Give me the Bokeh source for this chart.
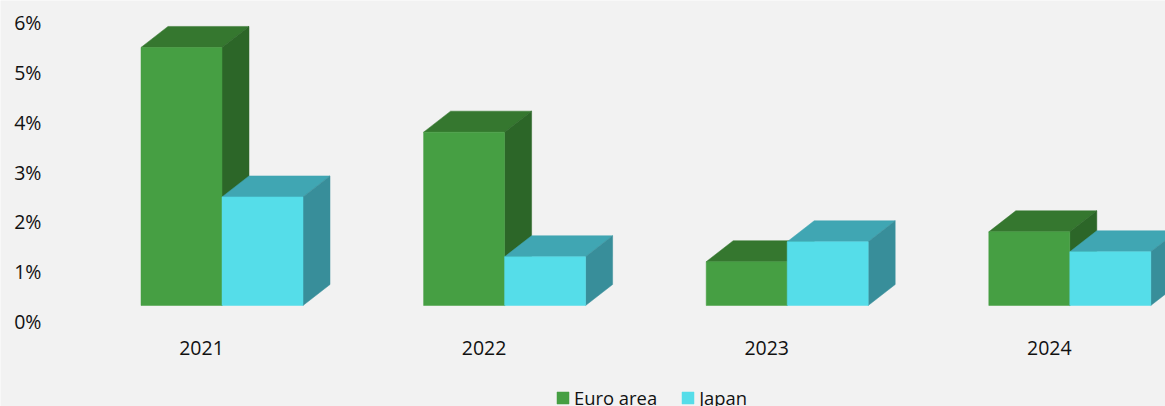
from bokeh.plotting import figure
from bokeh.models import Range1d, FixedTicker, Legend, LegendItem
from bokeh.embed import file_html
from bokeh.resources import INLINE

years = ["2021", "2022", "2023", "2024"]
euro_area = [5.5, 3.8, 1.2, 1.8]
japan = [2.5, 1.3, 1.6, 1.4]
y_ticks = [0, 1, 2, 3, 4, 5, 6]
y_labels = ["0%", "1%", "2%", "3%", "4%", "5%", "6%"]

FONT = "Open Sans"
BG = "#f2f2f2"
W, H = 1165, 406
AXIS_X, AXIS_Y = 51, 321     # canvas position of the value/category axes
PX_X, PX_Y = 282.6, 49.83
TICK0 = 201.0                # canvas x of first category tick
FLOOR = 16 / PX_Y            # front floor of the 3D box, on the value axis
DX, DY = 27 / PX_X, 21 / PX_Y
BAR = 81 / PX_X
JOIN = 20.5 / PX_X

x_start = -TICK0 / PX_X
x_end = (W - TICK0) / PX_X
y_top = AXIS_Y / PX_Y
y_bottom = -(H - AXIS_Y) / PX_Y

p = figure(width=W, height=H, output_backend="svg", toolbar_location=None,
           x_range=Range1d(x_start, x_end), y_range=Range1d(y_bottom, y_top),
           background_fill_color=BG, border_fill_color=BG,
           min_border=0, outline_line_color=None)
p.grid.visible = False
p.xaxis.fixed_location = 0
p.yaxis.fixed_location = (AXIS_X - TICK0) / PX_X

for ax, ticks, labels, standoff in [
    (p.xaxis[0], list(range(len(years))), years, 13),
    (p.yaxis[0], y_ticks, y_labels, 4),
]:
    ax.ticker = FixedTicker(ticks=ticks)
    ax.major_label_overrides = {t: l for t, l in zip(ticks, labels)}
    ax.axis_line_color = None
    ax.major_tick_line_color = None
    ax.minor_tick_line_color = None
    ax.major_label_text_font = FONT
    ax.major_label_text_font_size = "19.5px"
    ax.major_label_text_color = "#111111"
    ax.major_label_standoff = standoff


def box(left, val, front, top, side):
    right = left + BAR
    p.patch([left, left + DX, right + DX, right], [val, val + DY, val + DY, val],
            fill_color=top, line_color=top, line_width=0.5)
    p.patch([right, right + DX, right + DX, right],
            [val, val + DY, FLOOR + DY, FLOOR],
            fill_color=side, line_color=side, line_width=0.5)
    return p.quad(left=[left], right=[right], bottom=[FLOOR], top=[val],
                  fill_color=front, line_color=front, line_width=0.5)


r_euro = r_japan = None
for i in range(len(years)):
    r_euro = box(i + JOIN - BAR, euro_area[i], "#469f43", "#35772f", "#2c6628")
    r_japan = box(i + JOIN, japan[i], "#55dde9", "#40a6b3", "#388e9a")

legend = Legend(
    items=[LegendItem(label="Euro area", renderers=[r_euro]),
           LegendItem(label="Japan", renderers=[r_japan])],
    orientation="horizontal", location=(555, -4),
    background_fill_alpha=0, border_line_color=None,
    glyph_width=15, glyph_height=15, label_standoff=4, spacing=23,
    padding=0, margin=0, label_text_font=FONT, label_text_font_size="18.4px",
    label_text_color="#111111",
)
p.add_layout(legend, "center")

open("out.html", "w").write(file_html(p, INLINE))
